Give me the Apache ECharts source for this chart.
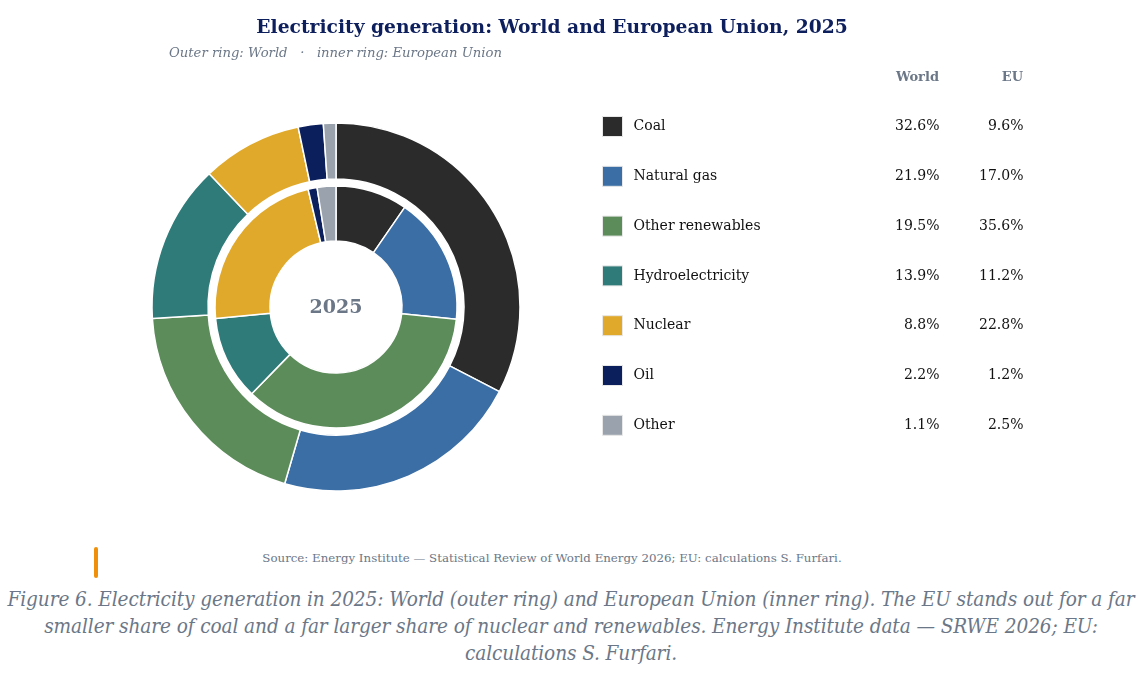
<!DOCTYPE html>
<html><head><meta charset="utf-8">
<script src="https://cdn.jsdelivr.net/npm/echarts@6/dist/echarts.min.js"></script>
<style>
html,body{margin:0;padding:0;background:#fff;}
#c{width:1142px;height:540px;}
#src{position:absolute;left:0;top:550px;width:1104px;text-align:center;font-family:'DejaVu Serif',serif;font-size:11.8px;line-height:16px;color:#6b7787;}
#bar{position:absolute;left:94px;top:547px;width:4px;height:31px;background:#f0900a;border-radius:2px;}
#cap{position:absolute;left:0;top:586px;width:1142px;text-align:center;white-space:nowrap;font-family:'DejaVu Serif Condensed','DejaVu Serif',serif;font-style:italic;font-size:20.6px;letter-spacing:-0.1px;line-height:27px;color:#6b7787;}
</style></head>
<body>
<div id="c"></div>
<div id="bar"></div>
<div id="src">Source: Energy Institute — Statistical Review of World Energy 2026; EU: calculations S. Furfari.</div>
<div id="cap">Figure 6. Electricity generation in 2025: World (outer ring) and European Union (inner ring). The EU stands out for a far<br>smaller share of coal and a far larger share of nuclear and renewables. Energy Institute data — SRWE 2026; EU:<br>calculations S. Furfari.</div>
<script>
const categories = ['Coal','Natural gas','Other renewables','Hydroelectricity','Nuclear','Oil','Other'];
const worldValues = [32.6,21.9,19.5,13.9,8.8,2.2,1.1];
const euValues = [9.6,17.0,35.6,11.2,22.8,1.2,2.5];
const colors = ['#2b2b2b','#3a6ea5','#5c8c5a','#2e7b79','#e0a92b','#0b1f5c','#9aa3ad'];

const serif = "'DejaVu Serif', serif";
const chart = echarts.init(document.getElementById('c'));
const mk = vals => categories.map((n,i)=>({name:n,value:vals[i],itemStyle:{color:colors[i]}}));
const fmt = v => v.toFixed(1) + '%';

chart.setOption({
  animation:false,
  title:[
    {text:'Electricity generation: World and European Union, 2025',left:552,top:19,textAlign:'center',padding:0,
     textStyle:{fontFamily:serif,fontWeight:'bold',fontSize:18.7,color:'#0d1f5c'}},
    {text:'Outer ring: World   ·   inner ring: European Union',left:169,top:47,padding:0,
     textStyle:{fontFamily:serif,fontStyle:'italic',fontWeight:'normal',fontSize:13.2,color:'#6b7787'}}
  ],
  legend:{
    orient:'vertical',left:602,top:116,padding:0,itemWidth:20,itemHeight:20,itemGap:28.8,
    icon:'rect',selectedMode:false,
    itemStyle:{borderColor:'#e8e8e8',borderWidth:1},
    data:categories,
    formatter:function(name){
      const i = categories.indexOf(name);
      return '{n|'+name+'}{w|'+fmt(worldValues[i])+'}{e|'+fmt(euValues[i])+'}';
    },
    textStyle:{
      fontFamily:serif,fontSize:14,color:'#111',
      rich:{
        n:{fontFamily:serif,fontSize:14,color:'#111',width:250,padding:[0,0,0,6],lineHeight:20},
        w:{fontFamily:serif,fontSize:14,color:'#111',width:56,align:'right',lineHeight:20},
        e:{fontFamily:serif,fontSize:14,color:'#111',width:84,align:'right',lineHeight:20}
      }
    }
  },
  graphic:[
    {type:'text',x:939,y:78,style:{text:'World',align:'right',verticalAlign:'middle',font:"bold 13px 'DejaVu Serif', serif",fill:'#6b7787'}},
    {type:'text',x:1023,y:78,style:{text:'EU',align:'right',verticalAlign:'middle',font:"bold 13px 'DejaVu Serif', serif",fill:'#6b7787'}},
    {type:'text',x:336,y:308,style:{text:'2025',align:'center',verticalAlign:'middle',font:"bold 19px 'DejaVu Serif', serif",fill:'#6b7787'}}
  ],
  series:[
    {type:'pie',name:'World',center:[336,307],radius:[128,184],startAngle:90,clockwise:true,
     label:{show:false},labelLine:{show:false},silent:true,
     itemStyle:{borderColor:'#fff',borderWidth:1.5},data:mk(worldValues)},
    {type:'pie',name:'EU',center:[336,307],radius:[66,121],startAngle:90,clockwise:true,
     label:{show:false},labelLine:{show:false},silent:true,
     itemStyle:{borderColor:'#fff',borderWidth:1.5},data:mk(euValues)}
  ]
});
</script>
</body></html>
